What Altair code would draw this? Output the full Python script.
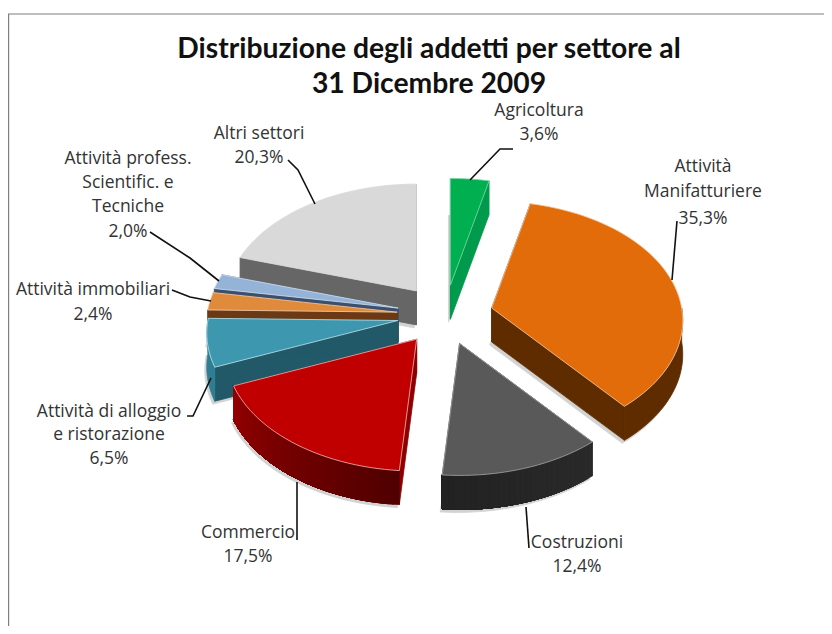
import math
import altair as alt
import pandas as pd

# ---- chart values ----
categories = ["Agricoltura", "Attività Manifatturiere", "Costruzioni", "Commercio",
              "Attività di alloggio e ristorazione", "Attività immobiliari",
              "Attività profess. Scientific. e Tecniche", "Altri settori"]
values = [3.6, 35.3, 12.4, 17.5, 6.5, 2.4, 2.0, 20.3]
top_colors = ["#00B050", "#E36C0A", "#595959", "#C00000", "#3D97AE", "#E08A3C", "#95B3D7", "#D9D9D9"]
radial_colors = ["#009A4C", "#5F2C00", "#262626", "#8E0000", "#215968", "#6B3A14", "#3A506E", "#666666"]
arc_from = ["#009A4C", "#5F2C00", "#2A2A2A", "#500000", "#2E7D93", "#6B3A14", "#3A506E", "#666666"]
arc_to = ["#009A4C", "#5F2C00", "#222222", "#930000", "#2E7D93", "#6B3A14", "#3A506E", "#666666"]
edge_colors = ["#7FD8A7", "#F6C9A0", "#A6A6A6", "#F2B8B8", "#BFE3EC", "#F3D3B5", "#D5E2F2", "#D9D9D9"]
draw_order = [7, 6, 5, 4, 3, 0, 1, 2]

title_lines = ["Distribuzione degli addetti per settore al", "31 Dicembre 2009"]
label_lines = ["Agricoltura", "3,6%", "Attività", "Manifatturiere", "35,3%", "Costruzioni", "12,4%",
               "Commercio", "17,5%", "Attività di alloggio", "e ristorazione", "6,5%",
               "Attività immobiliari", "2,4%", "Attività profess.", "Scientific. e", "Tecniche", "2,0%",
               "Altri settori", "20,3%"]
label_x = [539, 539, 703, 703, 703, 577, 577, 248, 248, 109, 109, 109, 93, 93, 128, 128, 128, 128, 259, 259]
label_y = [111, 135, 167, 192, 219, 543, 567, 533, 557, 412, 435, 459, 290, 315, 159, 183, 207, 232, 134, 158]

leaders = [
    [(470, 180), (500, 149), (513, 149)],
    [(672, 280), (677, 221)],
    [(526, 507), (529, 548)],
    [(297, 482), (297, 540)],
    [(211, 378), (193, 416), (187, 416)],
    [(211, 301), (190, 297), (172, 290)],
    [(219, 281), (190, 258), (150, 232)],
    [(315, 204), (298, 170), (288, 160)],
]

# ---- layout of the tilted pie ----
W, H = 816, 618
CX, CY = 445, 315
RX, RY, K = 190, 118, 0.105
EX, EY = 48, 30
DEPTH = 34
SHADOW = "#D2D2D2"


def proj(deg):
    u, v = math.sin(math.radians(deg)), -math.cos(math.radians(deg))
    s = 1 / (1 - K * v)
    return RX * u * s, RY * v * s


def mix(a, b, t):
    ca = [int(a[i:i + 2], 16) for i in (1, 3, 5)]
    cb = [int(b[i:i + 2], 16) for i in (1, 3, 5)]
    return "#%02X%02X%02X" % tuple(round(x + (y - x) * t) for x, y in zip(ca, cb))


def feature(points, fill, stroke):
    ring = [list(p) for p in points] + [list(points[0])]
    return {"type": "Feature", "geometry": {"type": "Polygon", "coordinates": [ring]},
            "properties": {"fill": fill, "stroke": stroke}}


starts = [sum(values[:i]) * 3.6 for i in range(len(values))]
features = []
for i in draw_order:
    a, b = starts[i], starts[i] + values[i] * 3.6
    mid = (a + b) / 2
    ax = CX + EX * math.sin(math.radians(mid))
    ay = CY - EY * math.cos(math.radians(mid))
    n = max(2, int((b - a) / 2))
    degs = [a + (b - a) * j / n for j in range(n + 1)]
    rim = [(ax + proj(d)[0], ay + proj(d)[1]) for d in degs]
    # soft shadow under the slice
    features.append(feature([(ax - 2, ay + DEPTH + 3)] + [(p[0] - 2, p[1] + DEPTH + 3) for p in rim],
                            SHADOW, SHADOW))
    for p in (rim[0], rim[-1]):
        q = [(ax, ay), p, (p[0], p[1] + DEPTH), (ax, ay + DEPTH)]
        features.append(feature(q, radial_colors[i], radial_colors[i]))
    lo, hi = max(a, 90), min(b, 270)
    if hi > lo:
        m = max(2, int((hi - lo) / 1.5))
        ds = [lo + (hi - lo) * j / m for j in range(m + 1)]
        pts = [(ax + proj(d)[0], ay + proj(d)[1]) for d in ds]
        # each band runs to the end of the wall, the next one paints over it: no seams
        bands = 1 if arc_from[i] == arc_to[i] else m
        for j in range(bands):
            upper = pts[j:]
            lower = [(p[0], p[1] + DEPTH) for p in reversed(upper)]
            c = mix(arc_from[i], arc_to[i], j / max(1, bands - 1))
            features.append(feature(upper + lower, c, c))
    features.append(feature([(ax, ay)] + rim, top_colors[i], edge_colors[i]))

x_scale = alt.Scale(domain=[8, 8 + W], range=[0, W])
y_scale = alt.Scale(domain=[8, 8 + H], range=[0, H])
x_enc = alt.X("x:Q", scale=x_scale, axis=None)
y_enc = alt.Y("y:Q", scale=y_scale, axis=None)

pie = (
    alt.Chart(alt.Data(values=features))
    .mark_geoshape(strokeWidth=0.8)
    .encode(fill=alt.Fill("properties.fill:N", scale=None),
            stroke=alt.Stroke("properties.stroke:N", scale=None))
    .project(type="identity", scale=1, translate=[-8, -8])
)

border_df = pd.DataFrame({"x": [8.6, 8.6, 8 + W], "y": [8 + H, 14, 14]})
border_df["o"] = range(3)
border = alt.Chart(border_df).mark_line(color="#7F7F7F", strokeWidth=1.2).encode(
    x=x_enc, y=y_enc, order="o:Q")

leader_rows = [{"id": categories[i], "o": j, "x": p[0], "y": p[1]}
               for i, pts in enumerate(leaders) for j, p in enumerate(pts)]
leader = alt.Chart(pd.DataFrame(leader_rows)).mark_line(color="#111111", strokeWidth=1.6).encode(
    x=x_enc, y=y_enc, detail="id:N", order="o:Q")

labels = alt.Chart(pd.DataFrame({"x": label_x, "y": label_y, "t": label_lines})).mark_text(
    font="Open Sans", fontSize=17.5, color="#333333", align="center", baseline="middle"
).encode(x=x_enc, y=y_enc, text="t:N")

titles = alt.Chart(pd.DataFrame({"x": [429, 429], "y": [49.5, 85], "t": title_lines})).mark_text(
    font="Lato", fontSize=28.3, fontWeight="bold", color="#111111", align="center", baseline="middle"
).encode(x=x_enc, y=y_enc, text="t:N")

chart = alt.layer(border, pie, leader, labels, titles).properties(
    width=W, height=H, background="white", padding=0,
    autosize=alt.AutoSizeParams(type="none")
).configure_view(stroke=None)

chart.save("out.html", embed_options={"renderer": "svg", "actions": False})
